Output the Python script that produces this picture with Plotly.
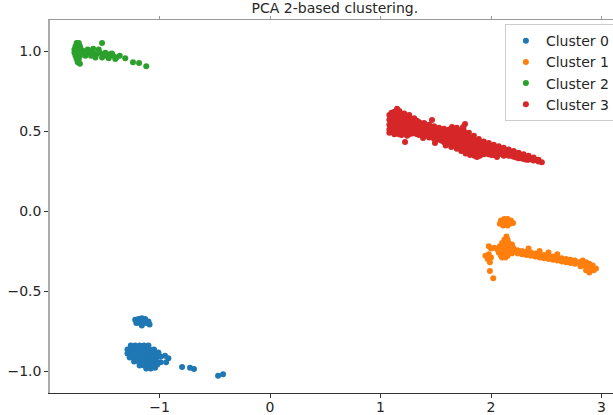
import plotly.graph_objects as go

# ---------------- data ----------------
title_text = "PCA 2-based clustering."
cluster_names = ["Cluster 0", "Cluster 1", "Cluster 2", "Cluster 3"]
cluster_colors = ["#1f77b4", "#ff7f0e", "#2ca02c", "#d62728"]
x_tick_vals = [-1, 0, 1, 2, 3]
x_tick_text = ["\u22121", "0", "1", "2", "3"]
y_tick_vals = [-1.0, -0.5, 0.0, 0.5, 1.0]
y_tick_text = ["\u22121.0", "\u22120.5", "0.0", "0.5", "1.0"]

# Cluster 0 (blue)
cluster0_pts = [
    (-1.22, -0.68), (-1.19, -0.675), (-1.16, -0.67), (-1.13, -0.675), (-1.10, -0.69),
    (-1.21, -0.70), (-1.18, -0.70), (-1.15, -0.70), (-1.12, -0.70), (-1.09, -0.71), (-1.16, -0.715),
    (-1.26, -0.84), (-1.22, -0.84), (-1.18, -0.84), (-1.14, -0.84), (-1.10, -0.84),
    (-1.29, -0.865), (-1.25, -0.865), (-1.21, -0.865), (-1.17, -0.865), (-1.13, -0.865), (-1.09, -0.865), (-1.05, -0.865),
    (-1.29, -0.89), (-1.25, -0.89), (-1.21, -0.89), (-1.17, -0.89), (-1.13, -0.89), (-1.09, -0.89), (-1.05, -0.89), (-1.01, -0.885),
    (-1.27, -0.915), (-1.23, -0.915), (-1.19, -0.915), (-1.15, -0.915), (-1.11, -0.915), (-1.07, -0.915), (-1.03, -0.915),
    (-0.99, -0.91), (-0.95, -0.905), (-0.92, -0.92),
    (-1.23, -0.94), (-1.19, -0.94), (-1.15, -0.94), (-1.11, -0.94), (-1.07, -0.94), (-1.03, -0.94), (-0.99, -0.945), (-0.94, -0.945),
    (-1.18, -0.965), (-1.14, -0.965), (-1.10, -0.965), (-1.06, -0.965), (-1.02, -0.96),
    (-1.12, -0.985), (-1.08, -0.985), (-1.04, -0.98),
    (-0.796, -0.975), (-0.724, -0.98), (-0.688, -0.9875), (-0.47, -1.03), (-0.425, -1.02),
]

# Cluster 1 (orange)
cluster1_pts = [
    (2.09, -0.06), (2.12, -0.05), (2.15, -0.05), (2.18, -0.06), (2.08, -0.08), (2.11, -0.08), (2.14, -0.08),
    (2.17, -0.08), (2.20, -0.075), (2.11, -0.09), (2.15, -0.09),
    (2.14, -0.16), (2.12, -0.18), (2.15, -0.18), (2.10, -0.20), (2.13, -0.20), (2.16, -0.20), (2.19, -0.21),
    (2.08, -0.22), (2.11, -0.22), (2.14, -0.22), (2.17, -0.22), (2.20, -0.23),
    (2.06, -0.24), (2.09, -0.24), (2.12, -0.24), (2.15, -0.24), (2.18, -0.245), (2.21, -0.25),
    (2.07, -0.26), (2.10, -0.26), (2.13, -0.26), (2.16, -0.265), (2.19, -0.265),
    (2.09, -0.28), (2.12, -0.28), (2.15, -0.28), (2.10, -0.29), (2.13, -0.29),
    (2.03, -0.23), (2.00, -0.235), (1.98, -0.22),
    (1.95, -0.28), (1.98, -0.27), (1.97, -0.30), (2.00, -0.29), (1.99, -0.32), (1.99, -0.375), (2.02, -0.42),
    (2.24, -0.245), (2.24, -0.265), (2.28, -0.25), (2.28, -0.27), (2.32, -0.255), (2.32, -0.275),
    (2.36, -0.26), (2.36, -0.28), (2.40, -0.265), (2.40, -0.285), (2.44, -0.27), (2.44, -0.29),
    (2.48, -0.275), (2.48, -0.295), (2.52, -0.28), (2.52, -0.30), (2.56, -0.285), (2.56, -0.305),
    (2.60, -0.29), (2.60, -0.31), (2.64, -0.295), (2.64, -0.315), (2.68, -0.30), (2.68, -0.32),
    (2.72, -0.305), (2.72, -0.325), (2.76, -0.31), (2.76, -0.33),
    (2.34, -0.235), (2.44, -0.25), (2.52, -0.26), (2.60, -0.27),
    (2.80, -0.32), (2.83, -0.31), (2.86, -0.32), (2.89, -0.33), (2.92, -0.34), (2.95, -0.36),
    (2.81, -0.345), (2.84, -0.34), (2.87, -0.35), (2.90, -0.355), (2.93, -0.37), (2.86, -0.37), (2.89, -0.385),
]

# Cluster 2 (green)
cluster2_pts = [
    (-1.75, 1.05), (-1.73, 1.05),
    (-1.76, 1.03), (-1.74, 1.03), (-1.72, 1.03),
    (-1.77, 1.01), (-1.75, 1.01), (-1.73, 1.01), (-1.71, 1.01),
    (-1.77, 0.99), (-1.75, 0.99), (-1.73, 0.99), (-1.71, 0.99),
    (-1.76, 0.97), (-1.74, 0.97), (-1.72, 0.97),
    (-1.75, 0.95), (-1.73, 0.95), (-1.74, 0.93), (-1.72, 0.92),
    (-1.69, 1.00), (-1.66, 0.99), (-1.63, 1.00), (-1.60, 0.99), (-1.57, 0.98), (-1.54, 0.99),
    (-1.51, 0.98), (-1.48, 0.97), (-1.45, 0.98), (-1.42, 0.97), (-1.39, 0.96), (-1.36, 0.97),
    (-1.67, 0.97), (-1.62, 0.97), (-1.58, 0.96), (-1.52, 0.96), (-1.46, 0.955), (-1.40, 0.95),
    (-1.55, 1.01), (-1.60, 1.015), (-1.65, 1.01), (-1.49, 0.99), (-1.43, 0.985),
    (-1.52, 1.05), (-1.31, 0.955), (-1.24, 0.93), (-1.185, 0.925), (-1.12, 0.905),
]

# Cluster 3 (red)
cluster3_pts = [
    (1.08, 0.60), (1.08, 0.57), (1.08, 0.54), (1.08, 0.51), (1.08, 0.49),
    (1.10, 0.585), (1.10, 0.555), (1.10, 0.525), (1.10, 0.495), (1.10, 0.615),
    (1.125, 0.62), (1.125, 0.59), (1.125, 0.56), (1.125, 0.53), (1.125, 0.50), (1.125, 0.48),
    (1.15, 0.605), (1.15, 0.575), (1.15, 0.545), (1.15, 0.515), (1.15, 0.485), (1.15, 0.64),
    (1.17, 0.625), (1.17, 0.59), (1.17, 0.56), (1.17, 0.53), (1.17, 0.50), (1.17, 0.48),
    (1.19, 0.61), (1.19, 0.575), (1.19, 0.545), (1.19, 0.515), (1.19, 0.475),
    (1.215, 0.61), (1.215, 0.58), (1.215, 0.55), (1.215, 0.52), (1.215, 0.49),
    (1.24, 0.595), (1.24, 0.565), (1.24, 0.535), (1.24, 0.505), (1.24, 0.47),
    (1.26, 0.60), (1.26, 0.57), (1.26, 0.54), (1.26, 0.51), (1.26, 0.48),
    (1.285, 0.575), (1.285, 0.545), (1.285, 0.515), (1.285, 0.485),
    (1.305, 0.58), (1.305, 0.55), (1.305, 0.52), (1.305, 0.49),
    (1.33, 0.565), (1.33, 0.535), (1.33, 0.505), (1.33, 0.48),
    (1.35, 0.555), (1.35, 0.525), (1.35, 0.495), (1.35, 0.475),
    (1.375, 0.545), (1.375, 0.51), (1.375, 0.48),
    (1.395, 0.55), (1.395, 0.52), (1.395, 0.49), (1.395, 0.47),
    (1.42, 0.535), (1.42, 0.50), (1.42, 0.47),
    (1.44, 0.54), (1.44, 0.51), (1.44, 0.48), (1.44, 0.46),
    (1.46, 0.525), (1.46, 0.495), (1.46, 0.465),
    (1.485, 0.53), (1.485, 0.50), (1.485, 0.47), (1.485, 0.45),
    (1.51, 0.515), (1.51, 0.485), (1.51, 0.455),
    (1.53, 0.52), (1.53, 0.49), (1.53, 0.465), (1.53, 0.445),
    (1.555, 0.51), (1.555, 0.475), (1.555, 0.44),
    (1.575, 0.515), (1.575, 0.485), (1.575, 0.455), (1.575, 0.43),
    (1.60, 0.50), (1.60, 0.465), (1.60, 0.435), (1.59, 0.41),
    (1.62, 0.51), (1.62, 0.48), (1.62, 0.45), (1.62, 0.42),
    (1.645, 0.495), (1.645, 0.46), (1.645, 0.425), (1.64, 0.40),
    (1.665, 0.505), (1.665, 0.475), (1.665, 0.445), (1.665, 0.415),
    (1.69, 0.49), (1.69, 0.455), (1.69, 0.42), (1.69, 0.52), (1.69, 0.39),
    (1.71, 0.505), (1.71, 0.475), (1.71, 0.445), (1.71, 0.415), (1.71, 0.40),
    (1.735, 0.485), (1.735, 0.455), (1.735, 0.425), (1.735, 0.395), (1.73, 0.375),
    (1.755, 0.50), (1.755, 0.47), (1.755, 0.44), (1.755, 0.41), (1.755, 0.385), (1.75, 0.52),
    (1.78, 0.48), (1.78, 0.45), (1.78, 0.415), (1.78, 0.38), (1.77, 0.36),
    (1.80, 0.49), (1.80, 0.46), (1.80, 0.43), (1.80, 0.40), (1.80, 0.37), (1.81, 0.35),
    (1.825, 0.455), (1.825, 0.42), (1.825, 0.385),
    (1.845, 0.47), (1.845, 0.44), (1.845, 0.41), (1.845, 0.38), (1.845, 0.365), (1.85, 0.345),
    (1.87, 0.44), (1.87, 0.405), (1.87, 0.37),
    (1.89, 0.45), (1.89, 0.42), (1.89, 0.39), (1.89, 0.36), (1.90, 0.345),
    (1.915, 0.425), (1.915, 0.39), (1.915, 0.36),
    (1.935, 0.435), (1.935, 0.405), (1.935, 0.375), (1.935, 0.355),
    (1.96, 0.415), (1.96, 0.385), (1.96, 0.36),
    (1.98, 0.425), (1.98, 0.395), (1.98, 0.37), (1.98, 0.355),
    (2.005, 0.405), (2.005, 0.375), (2.005, 0.35),
    (2.025, 0.415), (2.025, 0.39), (2.025, 0.365), (2.025, 0.35),
    (2.05, 0.40), (2.05, 0.37),
    (2.07, 0.405), (2.07, 0.38), (2.07, 0.355),
    (2.095, 0.39), (2.095, 0.36),
    (2.115, 0.395), (2.115, 0.37), (2.115, 0.345),
    (2.14, 0.38), (2.14, 0.355),
    (2.16, 0.385), (2.16, 0.365), (2.16, 0.345),
    (2.185, 0.37), (2.185, 0.345),
    (2.205, 0.375), (2.205, 0.355), (2.205, 0.34),
    (2.23, 0.36), (2.23, 0.335),
    (2.25, 0.365), (2.25, 0.345), (2.25, 0.33),
    (2.275, 0.35), (2.275, 0.33),
    (2.295, 0.355), (2.295, 0.34), (2.295, 0.325),
    (2.32, 0.34), (2.32, 0.32),
    (2.34, 0.345), (2.34, 0.32), (2.36, 0.33), (2.385, 0.335), (2.385, 0.315),
    (2.41, 0.32), (2.43, 0.32), (2.43, 0.31), (2.46, 0.305),
    (1.466, 0.569), (1.647, 0.525), (1.747, 0.525), (1.765, 0.544), (1.222, 0.431),
    (1.385, 0.456), (1.493, 0.425), (1.873, 0.3375), (2.054, 0.3375),
]

all_clusters = [cluster0_pts, cluster1_pts, cluster2_pts, cluster3_pts]

# ---------------- figure ----------------
fig = go.Figure()
for name, color, pts in zip(cluster_names, cluster_colors, all_clusters):
    xs = [p[0] for p in pts]
    ys = [p[1] for p in pts]
    fig.add_trace(go.Scatter(
        x=xs, y=ys, mode="markers", name=name,
        marker=dict(color=color, size=6, line=dict(width=0)),
    ))

# empty trace that brings the top (mirror) axis to life
fig.add_trace(go.Scatter(x=[None], y=[None], xaxis="x2", showlegend=False, hoverinfo="skip"))

x_range = [-1.991, 3.104]
y_range = [-1.1375, 1.194]
font_family = "DejaVu Sans"

fig.update_layout(
    width=613, height=415,
    margin=dict(l=50, r=0, t=20, b=22, autoexpand=False),
    paper_bgcolor="white", plot_bgcolor="white",
    font=dict(family=font_family, size=14, color="#262626"),
    title=dict(text=title_text, x=0.506, xref="paper", xanchor="center",
               y=0.981, yref="container", yanchor="middle",
               font=dict(family=font_family, size=14, color="#262626")),
    showlegend=True,
    legend=dict(x=0.808, y=0.989, xanchor="left", yanchor="top",
                bgcolor="rgba(255,255,255,0.8)", bordercolor="#cccccc", borderwidth=1,
                font=dict(family=font_family, size=14, color="#262626")),
    xaxis=dict(range=x_range, tickvals=x_tick_vals, ticktext=x_tick_text,
               showgrid=False, zeroline=False, showline=True, linecolor="#333333", linewidth=1,
               ticks="outside", ticklen=4, tickcolor="#333333", tickwidth=1,
               automargin=False, ticklabelstandoff=-3,
               tickfont=dict(family=font_family, size=14, color="#262626")),
    xaxis2=dict(range=x_range, tickvals=x_tick_vals, overlaying="x", side="top", anchor="y",
                showgrid=False, zeroline=False, showline=True, linecolor="#9a9a9a", linewidth=1,
                ticks="outside", ticklen=3, tickcolor="#9a9a9a", showticklabels=False),
    yaxis=dict(range=y_range, tickvals=y_tick_vals, ticktext=y_tick_text,
               showgrid=False, zeroline=False, showline=True, linecolor="#aaaaaa", linewidth=1.5,
               ticks="outside", ticklen=4, tickcolor="#333333", tickwidth=1,
               automargin=False,
               tickfont=dict(family=font_family, size=14, color="#262626")),
)

fig.write_html("out.html", config={"displayModeBar": False},
               post_script="document.body.style.margin='0';")
